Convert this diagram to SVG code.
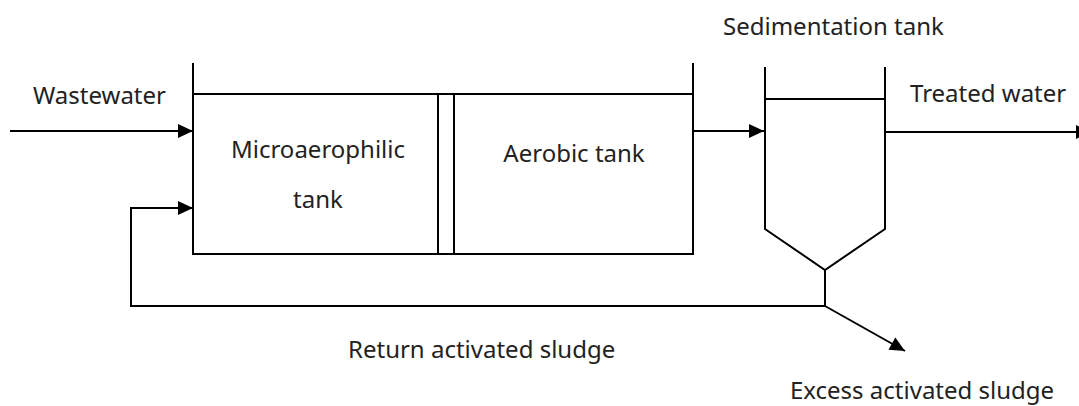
<svg xmlns="http://www.w3.org/2000/svg" width="1079" height="406" viewBox="0 0 1079 406">
  <style>
    .ln { fill: none; stroke: #000; stroke-width: 2; stroke-linejoin: miter; }
    .tx { font-family: "Noto Sans", "Open Sans", sans-serif; font-size: 24px; fill: #222; }
    .mid { text-anchor: middle; }
  </style>
  <defs>
    <marker id="arr" markerUnits="userSpaceOnUse" markerWidth="16" markerHeight="14" refX="15" refY="7" orient="auto" overflow="visible">
      <path d="M0,0 L15,7 L0,14 Z" fill="#000"/>
    </marker>
  </defs>
  <rect width="1079" height="406" fill="#fff"/>

  <g id="micro-tank">
    <path class="ln" d="M193,63 V254 H438 M193,94 H438"/>
    <text class="tx mid" x="318" y="158">Microaerophilic</text>
    <text class="tx mid" x="318" y="208">tank</text>
  </g>

  <g id="divider">
    <path class="ln" d="M438,94 V254 M454,94 V254 M438,94 H454 M438,254 H454"/>
  </g>

  <g id="aerobic-tank">
    <path class="ln" d="M454,94 H693 M454,254 H693 V63"/>
    <text class="tx mid" x="574" y="162">Aerobic tank</text>
  </g>

  <g id="sed-tank">
    <path class="ln" d="M765,67 V229 L825,270 L885,229 V67 M765,99 H885"/>
    <text class="tx" x="723" y="35">Sedimentation tank</text>
  </g>

  <g id="labels">
    <text class="tx" x="33" y="104">Wastewater</text>
    <text class="tx" x="910" y="102">Treated water</text>
    <text class="tx" x="348" y="358">Return activated sludge</text>
    <text class="tx" x="790" y="399">Excess activated sludge</text>
  </g>

  <g id="connectors">
    <path class="ln" d="M10,131 H193" marker-end="url(#arr)"/>
    <path class="ln" d="M693,131 H764" marker-end="url(#arr)"/>
    <path class="ln" d="M885,132 H1091" marker-end="url(#arr)"/>
    <path class="ln" d="M825,270 V306 H131 V208 H193" marker-end="url(#arr)"/>
    <path class="ln" d="M825,306 L905,351" marker-end="url(#arr)"/>
  </g>
</svg>
